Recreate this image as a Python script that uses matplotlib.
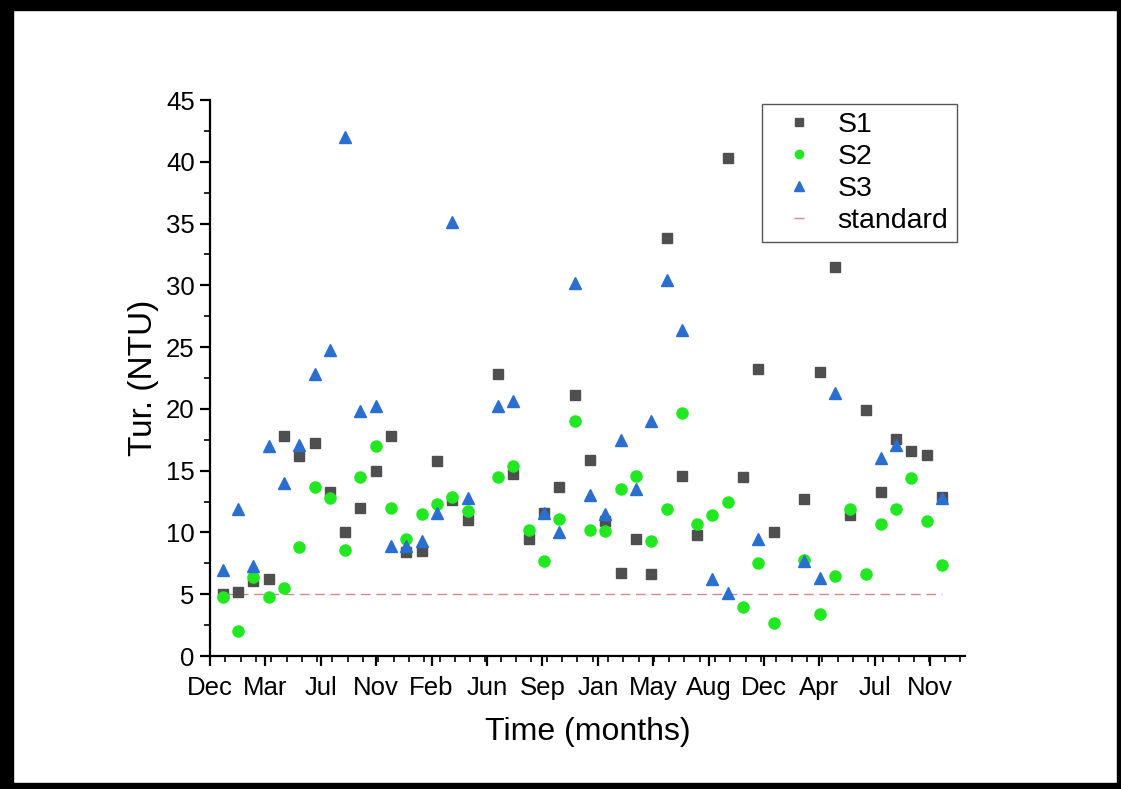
import numpy as np
import matplotlib
matplotlib.use("Agg")
import matplotlib.pyplot as plt
from matplotlib.patches import Rectangle
from matplotlib.lines import Line2D

plt.rcParams["font.family"] = ["Liberation Sans", "DejaVu Sans"]

nan = np.nan
# one sample per month, slot 0 = first sampling month (gaps = no sample)
month = np.arange(48)
S1 = [5.0, 5.2, 6.1, 6.2, 17.8, 16.2, 17.2, 13.3, 10.0, 12.0, 15.0, 17.8,
      8.4, 8.5, 15.8, 12.6, 11.0, nan, 22.8, 14.7, 9.5, 11.6, 13.7, 21.1,
      15.9, 10.9, 6.7, 9.5, 6.6, 33.8, 14.6, 9.8, nan, 40.3, 14.5, 23.2,
      10.0, nan, 12.7, 23.0, 31.5, 11.4, 19.9, 13.3, 17.6, 16.6, 16.3, 12.9]
S2 = [4.8, 2.0, 6.4, 4.8, 5.5, 8.8, 13.7, 12.8, 8.6, 14.5, 17.0, 12.0,
      9.5, 11.5, 12.3, 12.9, 11.7, nan, 14.5, 15.4, 10.2, 7.7, 11.1, 19.0,
      10.2, 10.1, 13.5, 14.6, 9.3, 11.9, 19.7, 10.7, 11.4, 12.5, 4.0, 7.5,
      2.7, nan, 7.8, 3.4, 6.5, 11.9, 6.6, 10.7, 11.9, 14.4, 10.9, 7.4]
S3 = [7.0, 11.9, 7.3, 17.0, 14.0, 17.1, 22.8, 24.8, 42.0, 19.8, 20.2, 8.9,
      8.9, 9.3, 11.6, 35.1, 12.8, nan, 20.2, 20.6, nan, 11.6, 10.0, 30.2,
      13.0, 11.5, 17.5, 13.5, 19.0, 30.4, 26.4, nan, 6.2, 5.1, nan, 9.5,
      nan, nan, 7.7, 6.3, 21.3, nan, nan, 16.0, 17.1, nan, nan, 12.8]
standard = 5
tick_labels = ["Dec", "Mar", "Jul", "Nov", "Feb", "Jun", "Sep",
               "Jan", "May", "Aug", "Dec", "Apr", "Jul", "Nov"]

c1, c2, c3, cs = "#4f4f4f", "#22e822", "#2a6fd0", "#d48a8a"

fig = plt.figure(figsize=[11.21, 7.89], dpi=100)
ax = fig.add_axes([210 / 1121, 1 - 656 / 789, 755 / 1121, 556 / 789])

ax.plot(month, S1, "s", color=c1, markersize=7, zorder=3)
ax.plot(month, S2, "o", color=c2, markersize=8, zorder=4)
ax.plot(month, S3, "^", color=c3, markersize=9, zorder=5)
ax.plot([month[0], month[-1]], [standard, standard], color=cs,
        linestyle=(0, (7, 4)), linewidth=1, zorder=2)

# date-like axis: major labels every ~3.6 months, minor ticks every month
x0 = -0.83
ax.set_xticks(x0 + 3.62 * np.arange(len(tick_labels)))
ax.set_xticklabels(tick_labels)
ax.set_xticks(x0 + np.arange(1, 50), minor=True)
ax.set_xlim([x0, 48.5])
ax.set_ylim([0, 45])
ax.set_yticks(np.arange(0, 46, 5))
ax.set_yticks(np.arange(2.5, 45, 5), minor=True)

for s in ["top", "right"]:
    ax.spines[s].set_visible(False)
for s in ["left", "bottom"]:
    ax.spines[s].set_linewidth(1.6)
ax.tick_params(which="major", direction="out", length=7.5, width=1.6,
               labelsize=18.5)
ax.tick_params(axis="x", which="major", pad=7)
ax.tick_params(which="minor", direction="out", length=4, width=1.2)

ax.set_xlabel("Time (months)", fontsize=23, labelpad=12)
ax.set_ylabel("Tur. (NTU)", fontsize=24, labelpad=5)

# legend: small markers, the standard shown as a tiny dash
handles = [Line2D([], [], marker="s", linestyle="None", color=c1, markersize=5.5),
           Line2D([], [], marker="o", linestyle="None", color=c2, markersize=6),
           Line2D([], [], marker="^", linestyle="None", color=c3, markersize=7),
           Line2D([], [], marker="_", linestyle="None", color=cs, markersize=7,
                  markeredgewidth=1)]
leg = ax.legend(handles, ["S1", "S2", "S3", "standard"], loc="upper right",
                bbox_to_anchor=(0.989, 0.993), borderaxespad=0, fontsize=20.5,
                handlelength=2.0, handletextpad=0.35, borderpad=0.3,
                labelspacing=0.2, fancybox=False, framealpha=1)
leg.get_frame().set_edgecolor("#555555")
leg.get_frame().set_linewidth(1)

# thick black border round the whole picture
W, H = 1121, 789
for (x, y, w, h) in [(0, 0, 13, H), (0, H - 10, W, 10),
                     (W - 4, 0, 4, H), (0, 0, W, 6)]:
    fig.patches.append(Rectangle((x / W, y / H), w / W, h / H,
                                 transform=fig.transFigure, color="black",
                                 zorder=10))

plt.savefig("out.png", dpi=100)
plt.close()
